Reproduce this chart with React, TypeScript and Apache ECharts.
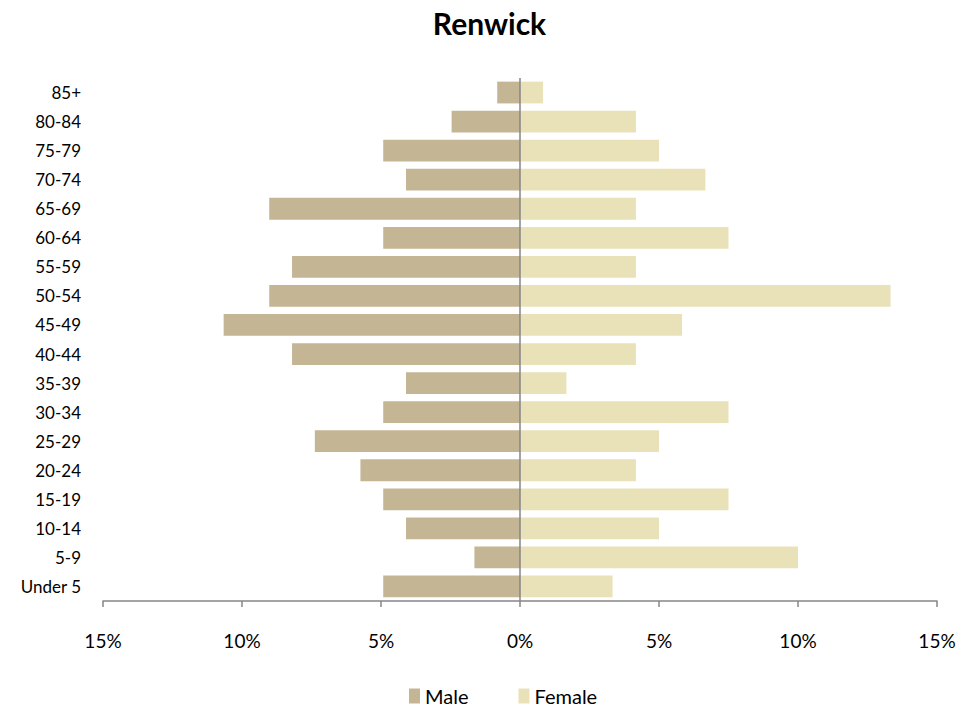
import React, { useEffect, useRef } from "react";
import * as echarts from "echarts";

const categories = ["Under 5", "5-9", "10-14", "15-19", "20-24", "25-29", "30-34", "35-39", "40-44", "45-49", "50-54", "55-59", "60-64", "65-69", "70-74", "75-79", "80-84", "85+"];
const maleValues = [4.92, 1.64, 4.10, 4.92, 5.74, 7.38, 4.92, 4.10, 8.20, 10.66, 9.02, 8.20, 4.92, 9.02, 4.10, 4.92, 2.46, 0.82];
const femaleValues = [3.33, 10.0, 5.0, 7.5, 4.17, 5.0, 7.5, 1.67, 4.17, 5.83, 13.33, 4.17, 7.5, 4.17, 6.67, 5.0, 4.17, 0.83];
const xTicks = [-15, -10, -5, 0, 5, 10, 15];

const FONT = "Lato, 'Open Sans', sans-serif";

export default function App() {
  const ref = useRef<HTMLDivElement>(null);
  useEffect(() => {
    if (!ref.current) return;
    const chart = echarts.init(ref.current, undefined, { renderer: "svg" });
    chart.setOption({
      animation: false,
      title: {
        text: "Renwick",
        left: "center",
        top: 3,
        textStyle: { fontFamily: FONT, fontSize: 30, fontWeight: "bold", color: "#000" },
      },
      legend: {
        bottom: 2,
        left: 404,
        itemWidth: 11,
        itemHeight: 15,
        itemGap: 50,
        icon: "rect",
        textStyle: { fontFamily: FONT, fontSize: 20, color: "#000" },
        data: ["Male", "Female"],
      },
      grid: { left: 103, right: 42, top: 78, bottom: 112, containLabel: false },
      xAxis: {
        type: "value",
        min: xTicks[0],
        max: xTicks[xTicks.length - 1],
        interval: 5,
        axisLine: { show: true, lineStyle: { color: "#868686", width: 1.5 } },
        axisTick: { show: true, length: 6, lineStyle: { color: "#868686", width: 1.5 } },
        splitLine: { show: false },
        axisLabel: {
          margin: 30,
          fontFamily: FONT,
          fontSize: 19,
          color: "#000",
          formatter: (v: number) => Math.abs(v) + "%",
        },
      },
      yAxis: {
        type: "category",
        data: categories,
        axisLine: { show: false },
        axisTick: { show: false },
        axisLabel: { margin: 22, fontFamily: FONT, fontSize: 17, color: "#000" },
      },
      series: [
        {
          name: "Male",
          type: "bar",
          data: maleValues.map((v) => -v),
          barWidth: "75%",
          barGap: "-100%",
          itemStyle: { color: "#C4B694" },
          markLine: {
            silent: true,
            symbol: "none",
            label: { show: false },
            lineStyle: { color: "#868686", type: "solid", width: 1.5 },
            data: [{ xAxis: 0 }],
          },
        },
        {
          name: "Female",
          type: "bar",
          data: femaleValues,
          barWidth: "75%",
          barGap: "-100%",
          itemStyle: { color: "#E9E2B9" },
        },
      ],
    });
    return () => chart.dispose();
  }, []);
  return <div ref={ref} style={{ width: 979, height: 713, margin: -8 }} />;
}
